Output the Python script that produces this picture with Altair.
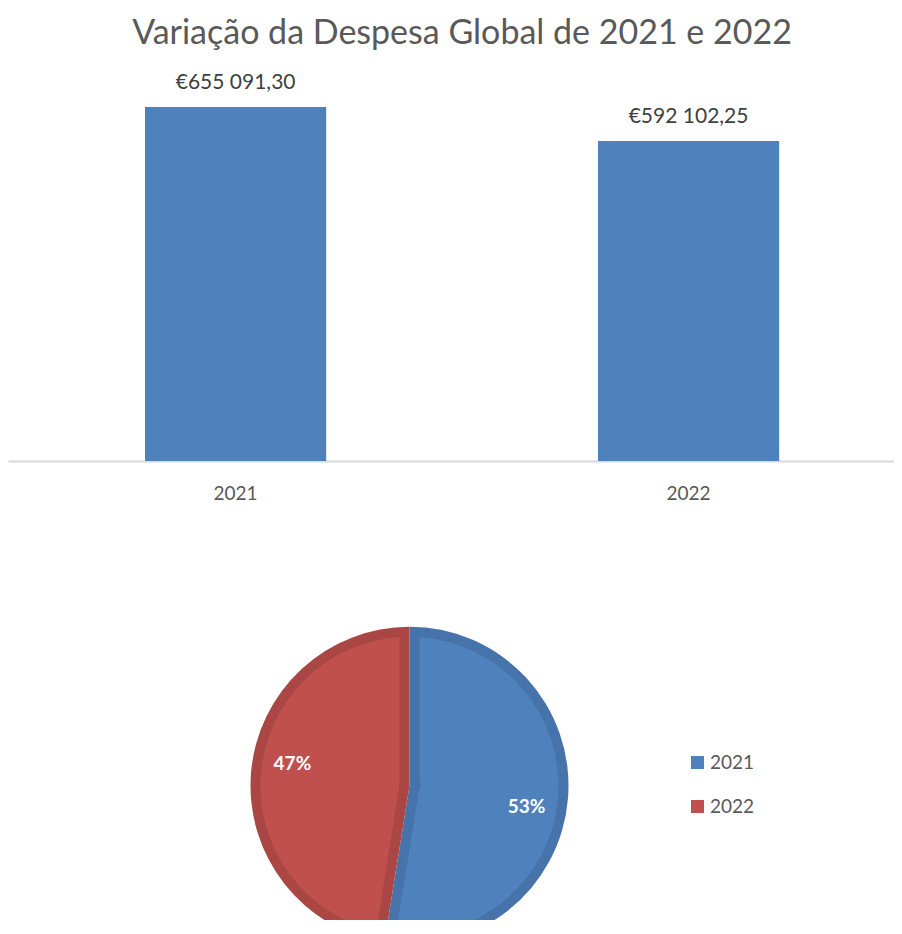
import altair as alt
import pandas as pd

years = ["2021", "2022"]
despesa = [655091.30, 592102.25]
labels = ["€655 091,30", "€592 102,25"]
pct_labels = ["53%", "47%"]
order = [0, 1]

df = pd.DataFrame({"year": years, "value": despesa, "label": labels,
                   "pct": pct_labels, "ord": order})

TEXT = "#595959"
FONT = "Lato"

bar_base = alt.Chart(df).encode(
    x=alt.X("year:N", title=None,
            scale=alt.Scale(paddingInner=0.6, paddingOuter=0.278, align=0.544),
            axis=alt.Axis(labelAngle=0, ticks=False, domainColor="#d9d9d9",
                          domainWidth=2, labelFontSize=19, labelColor=TEXT,
                          labelFont=FONT, labelPadding=23)),
    y=alt.Y("value:Q", scale=alt.Scale(domain=[0, 720000], nice=False), axis=None),
)
bars = bar_base.mark_bar(color="#4F81BD")
bar_text = bar_base.mark_text(baseline="alphabetic", dy=-18, fontSize=21,
                              font=FONT, color="#404040").encode(text="label:N")
bar_chart = (bars + bar_text).properties(width=886, height=389)

dark = alt.Scale(domain=years, range=["#4673AA", "#AA4744"])
light = alt.Scale(domain=years, range=["#4F81BD", "#C0504D"])

CX, CY = 401.5, 183.7
pie_base = alt.Chart(df).encode(
    theta=alt.Theta("value:Q", stack=True),
    order=alt.Order("ord:Q"),
    x=alt.value(CX),
    y=alt.value(CY),
)
pie_dark = pie_base.mark_arc(outerRadius=159, clip=True).encode(
    color=alt.Color("year:N", scale=dark, legend=None))
pie_light = pie_base.mark_arc(outerRadius=149, innerRadius=11, padAngle=0.134,
                              clip=True).encode(
    color=alt.Color("year:N", scale=light, title=None,
                    legend=alt.Legend(orient="none", legendX=680, legendY=151,
                                      symbolType="square", symbolSize=169,
                                      symbolStrokeWidth=0, labelFontSize=19,
                                      labelFont=FONT, labelColor=TEXT,
                                      rowPadding=24, labelOffset=3)))
pie_text = pie_base.mark_text(radius=119, thetaOffset=0.1, fontSize=19,
                              fontWeight="bold", font=FONT, color="white").encode(
    text="pct:N")
pie_chart = alt.layer(pie_dark, pie_light, pie_text).resolve_scale(
    color="independent").properties(width=803, height=318)

chart = alt.vconcat(bar_chart, pie_chart, spacing=99).properties(
    title=alt.Title("Variação da Despesa Global de 2021 e 2022", fontSize=34,
                    font=FONT, fontWeight="normal", color=TEXT, anchor="middle",
                    dx=11, offset=21),
    padding={"left": 0, "top": 9, "right": 0, "bottom": 0},
).configure_view(stroke=None)

chart.save("out.html", embed_options={"renderer": "svg", "actions": False})
